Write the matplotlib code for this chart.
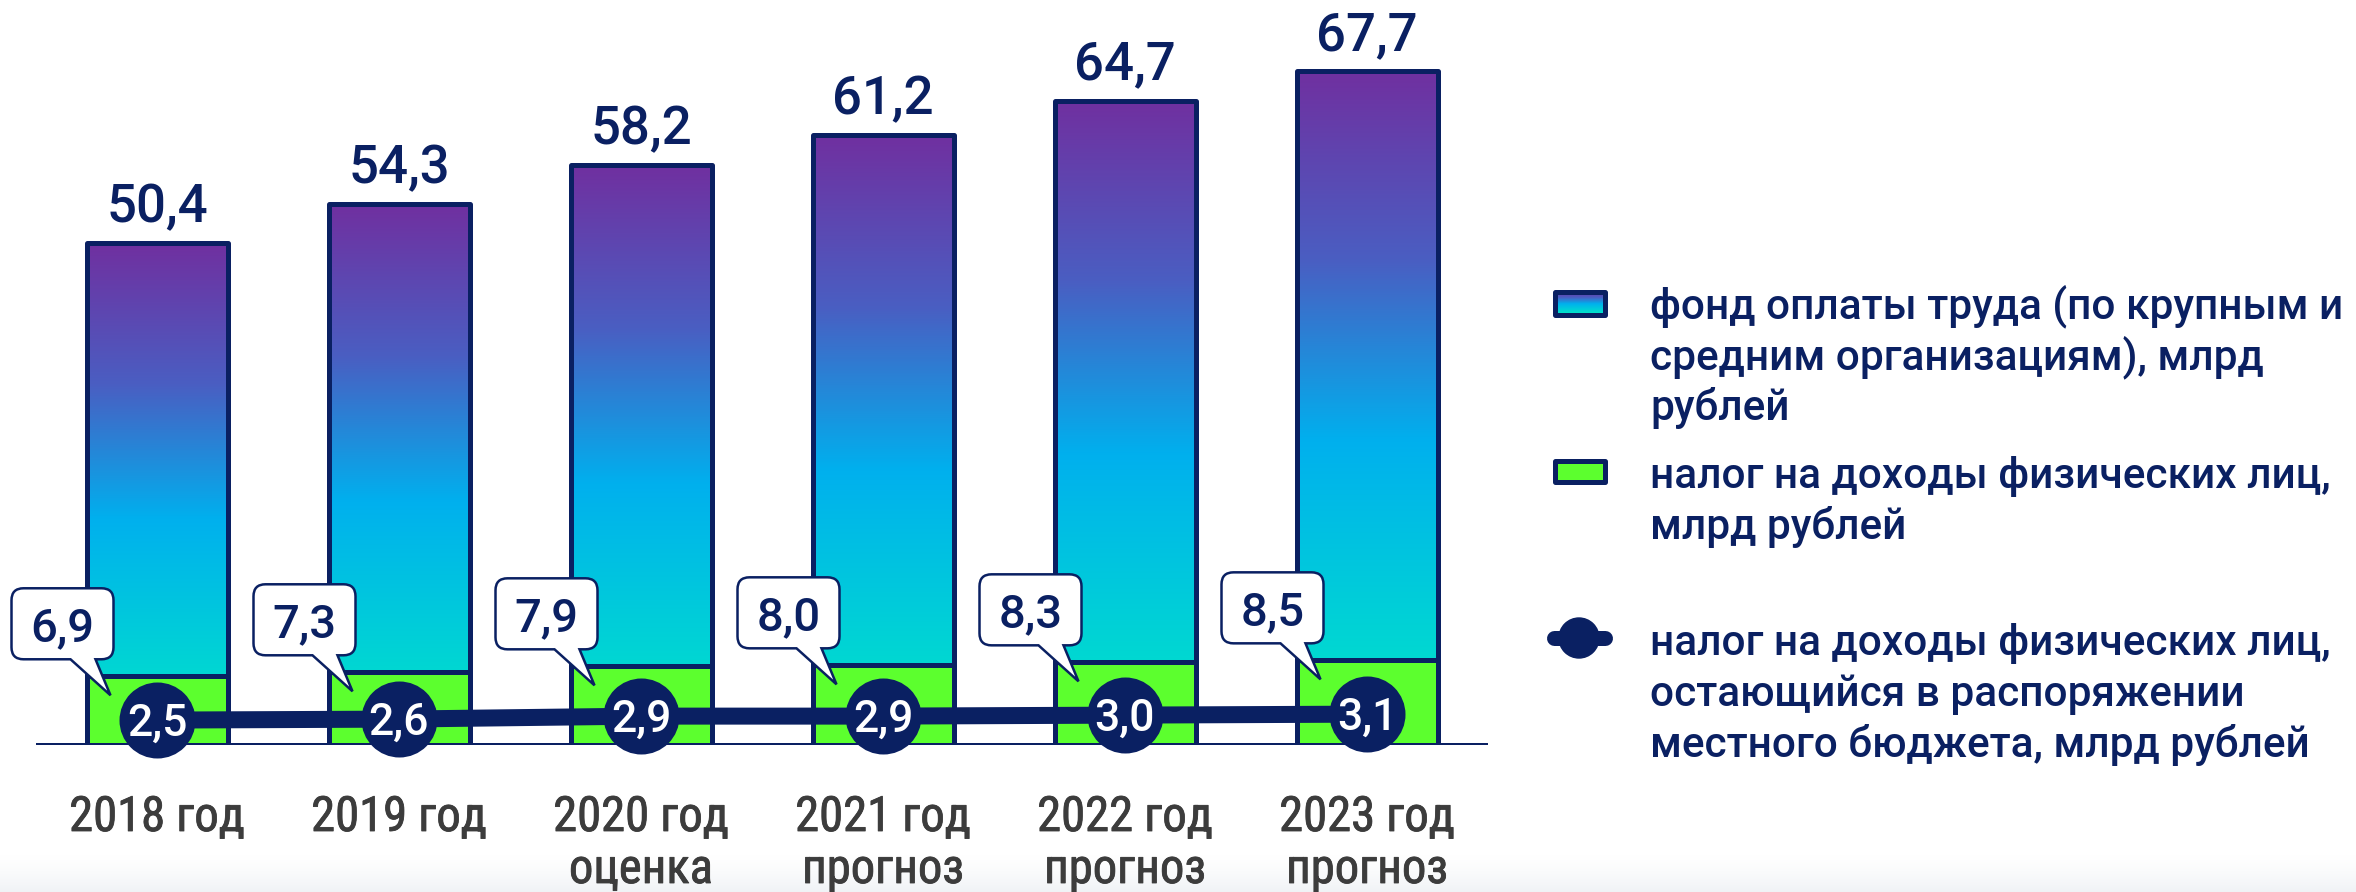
import numpy as np
import matplotlib
matplotlib.use("Agg")
import matplotlib.pyplot as plt
import matplotlib.patheffects as pe
from matplotlib import font_manager
from matplotlib.colors import LinearSegmentedColormap
from matplotlib.patches import PathPatch, Rectangle, Circle
from matplotlib.path import Path
from matplotlib.transforms import Affine2D, ScaledTranslation

# data
years = ["2018 год", "2019 год", "2020 год", "2021 год", "2022 год", "2023 год"]
notes = ["", "", "оценка", "прогноз", "прогноз", "прогноз"]
payroll = [50.4, 54.3, 58.2, 61.2, 64.7, 67.7]
ndfl = [6.9, 7.3, 7.9, 8.0, 8.3, 8.5]
ndfl_local = [2.5, 2.6, 2.9, 2.9, 3.0, 3.1]

legend_labels = [
    ["фонд оплаты труда (по крупным и", "средним организациям), млрд", "рублей"],
    ["налог на доходы физических лиц,", "млрд рублей"],
    ["налог на доходы физических лиц,", "остающийся в распоряжении",
     "местного бюджета, млрд рублей"],
]

NAVY = "#0A2062"
GREEN = "#5CFF2E"
GREY = "#3C3C3C"
PX = 72 / 100  # points per pixel at dpi 100

names = {f.name for f in font_manager.fontManager.ttflist}


def pick(*cands):
    for c in cands:
        if c in names:
            return c
    return "DejaVu Sans"


MAIN = pick("Roboto", "Open Sans", "DejaVu Sans")
NARROW = pick("Roboto Condensed", "Liberation Sans Narrow", "Roboto")
plt.rcParams["font.family"] = [MAIN, "DejaVu Sans"]

grad_cmap = LinearSegmentedColormap.from_list(
    "fot", [(0.0, "#00E8C6"), (0.45, "#00B0EE"), (0.72, "#4A5EC2"), (1.0, "#7030A0")])
grad = np.linspace(0, 1, 256).reshape(-1, 1)


def fmt(v):
    return f"{v:.1f}".replace(".", ",")


W, H = 2356, 892
fig = plt.figure(figsize=(W / 100, H / 100), dpi=100)

# background / legend layer in pixel coordinates
bg = fig.add_axes([0, 0, 1, 1])
bg.set_xlim(0, W)
bg.set_ylim(H, 0)
bg.axis("off")

# main chart: baseline at 745 px from top, 9.96 px per unit
base_px, unit_px = 745, 9.96
ax = fig.add_axes([36 / W, (H - base_px) / H, (1488 - 36) / W, (base_px - 20) / H])
ax.patch.set_visible(False)
ax.axis("off")

x = np.arange(len(years))
bw = 141 / 242

bars = ax.bar(x, payroll, bw, facecolor="none", edgecolor=NAVY, lw=5 * PX,
              joinstyle="round", zorder=3)
for b in bars:
    im = ax.imshow(grad, cmap=grad_cmap, origin="lower", aspect="auto", zorder=2,
                   extent=[b.get_x(), b.get_x() + bw, 0, b.get_height()])
    im.set_clip_path(b)
ax.bar(x, ndfl, bw, color=GREEN, edgecolor=NAVY, lw=5 * PX, joinstyle="round", zorder=3.2)
ax.axhline(0, color=NAVY, lw=5 * PX, zorder=3.5)

ax.set_xlim(-0.5, 5.5)
ax.set_ylim(0, (base_px - 20) / unit_px)

# totals above bars
for xi, v in zip(x, payroll):
    ax.annotate(fmt(v), (xi, v), xytext=(0, 21 * PX), textcoords="offset points",
                ha="center", va="baseline", fontsize=38, color=NAVY, weight="medium")

# line with circles
ax.plot(x, ndfl_local, color=NAVY, lw=17 * PX, zorder=4, solid_capstyle="butt")
ax.scatter(x, ndfl_local, s=(76 * PX) ** 2, color=NAVY, zorder=5, clip_on=False,
           linewidths=0)
for xi, v in zip(x, ndfl_local):
    ax.annotate(fmt(v), (xi, v), xytext=(0, -16 * PX), textcoords="offset points",
                ha="center", va="baseline", fontsize=32, color="white",
                weight="medium", zorder=6, annotation_clip=False)

# callouts (shape in pixels relative to the top-left corner of the green bar)
x0, x1, y0, y1, r = -75, 27, 17, 88, 12
verts = [(x0 + r, y0), (-16, y0), (24, -19), (9, y0), (x1 - r, y0),
         (x1, y0), (x1, y0 + r), (x1, y1 - r), (x1, y1), (x1 - r, y1),
         (x0 + r, y1), (x0, y1), (x0, y1 - r), (x0, y0 + r), (x0, y0), (x0 + r, y0),
         (0, 0)]
codes = [Path.MOVETO, Path.LINETO, Path.LINETO, Path.LINETO, Path.LINETO,
         Path.CURVE3, Path.CURVE3, Path.LINETO, Path.CURVE3, Path.CURVE3,
         Path.LINETO, Path.CURVE3, Path.CURVE3, Path.LINETO, Path.CURVE3, Path.CURVE3,
         Path.CLOSEPOLY]
callout = Path(verts, codes)
for xi, g in zip(x, ndfl):
    tr = Affine2D() + ScaledTranslation(xi - bw / 2, g, ax.transData)
    ax.add_patch(PathPatch(callout, facecolor="white", edgecolor=NAVY, lw=2.5 * PX,
                           transform=tr, zorder=6, clip_on=False))
    ax.text((x0 + x1) / 2, (y0 + y1) / 2 - 17, fmt(g), transform=tr, ha="center",
            va="baseline", fontsize=34, color=NAVY, weight="medium", zorder=7)

# category labels (regular condensed face, slightly thickened)
thicken = [pe.withStroke(linewidth=0.6, foreground=GREY)]
for xi, yr, nt in zip(x, years, notes):
    ax.annotate(yr, (xi, 0), xytext=(0, -86 * PX), textcoords="offset points",
                ha="center", va="baseline", fontsize=35, color=GREY,
                family=[NARROW, "DejaVu Sans"], weight="normal",
                path_effects=thicken, annotation_clip=False)
    if nt:
        ax.annotate(nt, (xi, 0), xytext=(0, -138 * PX), textcoords="offset points",
                    ha="center", va="baseline", fontsize=35, color=GREY,
                    family=[NARROW, "DejaVu Sans"], weight="normal",
                    path_effects=thicken, annotation_clip=False)

# legend
sq1 = Rectangle((1554.5, 291.5), 50, 23, facecolor="none", edgecolor=NAVY,
                lw=5 * PX, joinstyle="round", zorder=3)
bg.add_patch(sq1)
im = bg.imshow(grad, cmap=grad_cmap, origin="lower", aspect="auto", zorder=2,
               extent=[1554.5, 1604.5, 314.5, 291.5])
im.set_clip_path(sq1)
bg.add_patch(Rectangle((1554.5, 460.5), 50, 21, facecolor=GREEN, edgecolor=NAVY,
                       lw=5 * PX, joinstyle="round", zorder=3))
bg.plot([1553.5, 1604.5], [638, 638], color=NAVY, lw=15 * PX, solid_capstyle="round",
        zorder=3)
bg.add_patch(Circle((1579, 638), 20, color=NAVY, zorder=4))

for lines, first in zip(legend_labels, [318, 488, 655]):
    for i, line in enumerate(lines):
        bg.text(1650, first + i * 51, line, ha="left", va="baseline", fontsize=30.5,
                color=NAVY, weight="medium")

# faint screenshot fade at the bottom edge
band = np.zeros((40, 2, 4))
band[..., :3] = np.array([205, 214, 224]) / 255
band[..., 3] = np.linspace(0, 0.3, 40)[:, None] ** 1.5 / 0.3 ** 0.5
bg.imshow(band, extent=[0, W, H, H - 40], origin="upper", aspect="auto", zorder=0)
bg.set_xlim(0, W)
bg.set_ylim(H, 0)

fig.savefig("out.png", dpi=100)
